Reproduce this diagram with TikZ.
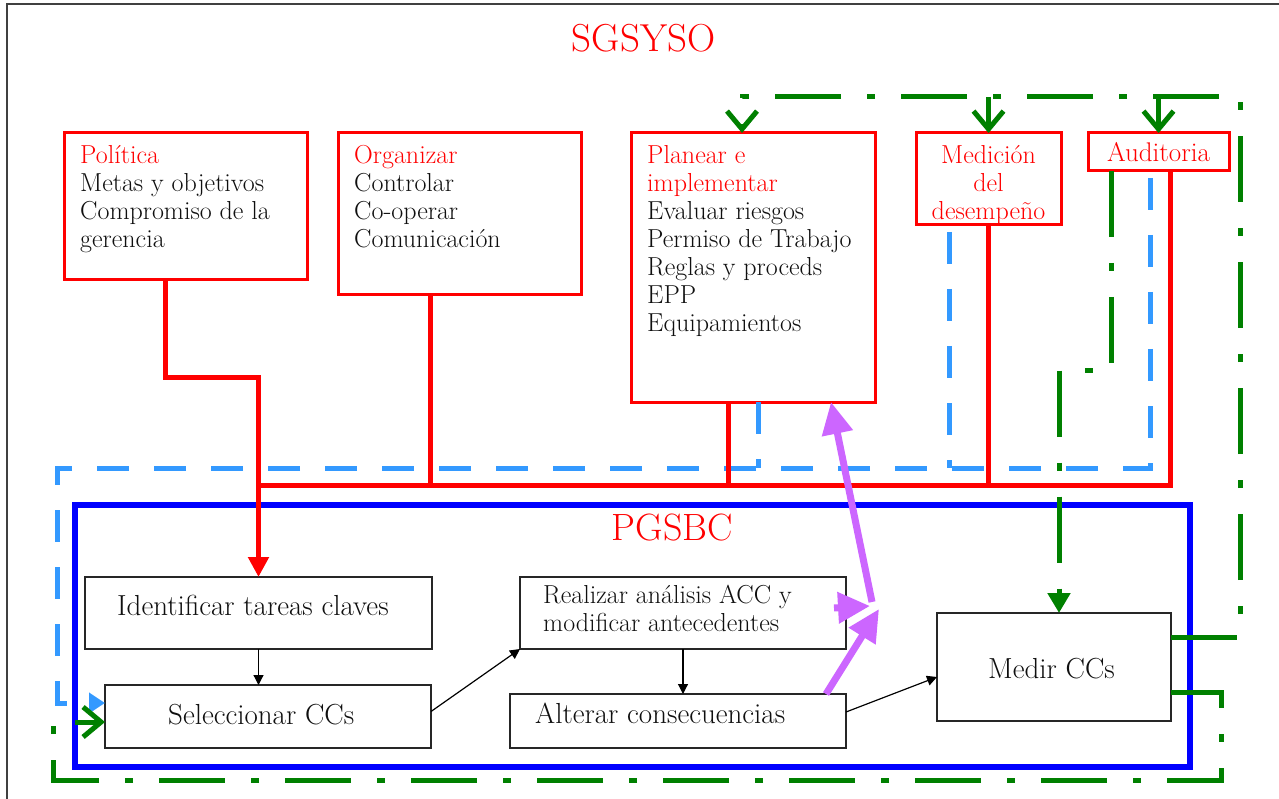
\documentclass[tikz,border=0pt]{standalone}
\usetikzlibrary{arrows.meta,calc}
\definecolor{sred}{RGB}{255,0,0}
\definecolor{lblue}{RGB}{51,153,255}
\definecolor{dgreen}{RGB}{0,128,0}
\definecolor{lpurple}{RGB}{204,102,255}
\definecolor{txt}{RGB}{15,15,15}
\begin{document}
\begin{tikzpicture}[x=1pt,y=-1pt,
 redbox/.style={draw=sred,line width=3pt,inner sep=0pt,outer sep=0pt,anchor=north west},
 blkbox/.style={draw=black!85,line width=1.4pt,inner sep=0pt,outer sep=0pt,anchor=north west},
 toptxt/.style={anchor=north west,inner sep=0pt,align=left,text=txt,font=\fontsize{26}{28}\selectfont},
 lowtxt/.style={anchor=base west,inner sep=0pt,text=txt,font=\fontsize{29}{32}\selectfont},
 redline/.style={draw=sred,line width=5pt},
 bluedash/.style={draw=lblue,line width=5pt,dash pattern=on 32pt off 25pt},
 greenline/.style={draw=dgreen,line width=5pt,dash pattern=on 66pt off 26pt on 8pt off 26pt},
 purp/.style={draw=lpurple,line width=7pt,-{Triangle[length=32pt,width=30pt]}},
 blkarrow/.style={draw=black,line width=1.2pt,-{Triangle[length=10pt,width=10pt]}},
 vbarb/.style={-{Straight Barb[length=18pt,width=30pt]}},
]
\useasboundingbox (0,0) rectangle (1279,799);
\draw[black!75,line width=1.5pt] (7,815) -- (7,4) -- (1295,4);

% PGSBC frame
\node[draw=blue,line width=6pt,minimum width=1115pt,minimum height=262pt,inner sep=0pt,outer sep=0pt,anchor=north west] (pg) at (75,505) {};

% boxes
\node[redbox,minimum width=243pt,minimum height=147pt] (pol) at (64,133) {};
\node[redbox,minimum width=243pt,minimum height=162pt] (org) at (338,133) {};
\node[redbox,minimum width=244pt,minimum height=269pt] (pla) at (631,133) {};
\node[redbox,minimum width=145pt,minimum height=92pt] (med) at (916,133) {};
\node[redbox,minimum width=141pt,minimum height=38pt] (aud) at (1088,133) {};

\node[blkbox,minimum width=347pt,minimum height=72pt] (idt) at (85,577) {};
\node[blkbox,minimum width=326pt,minimum height=63pt] (sel) at (105,685) {};
\node[blkbox,minimum width=326pt,minimum height=72pt] (rea) at (520,577) {};
\node[blkbox,minimum width=336pt,minimum height=54pt] (alt) at (510,694) {};
\node[blkbox,minimum width=234pt,minimum height=108pt] (mcc) at (937,613) {};

% light blue dashed
\draw[bluedash,-{Triangle[length=16pt,width=20pt]}] ([xshift=-8.5pt,yshift=-7pt]aud.south) -- (1150,468) -- (57,468) -- (57,703) -- ([yshift=13.5pt]sel.west);
\draw[bluedash] ([xshift=-39pt,yshift=-7pt]med.south) -- (949.5,468);
\draw[bluedash] ([xshift=5pt]pla.south) -- (758,468);

% red
\draw[redline,-{Triangle[length=20pt,width=20pt]}] ([xshift=-20.5pt]pol.south) |- (258.5,377) -- (idt.north);
\draw[redline] ([xshift=11.5pt]aud.south) |- (258.5,485);
\draw[redline] ([xshift=-29.5pt]org.south) -- (430,485);
\draw[redline] ([xshift=-25pt]pla.south) -- (728,485);
\draw[redline] (med.south) -- (988.5,485);

% green
\draw[greenline,vbarb] ([yshift=30pt]mcc.east) -- (1240,637) -- (1240,97) -- (742,97) -- ([xshift=-11pt]pla.north);
\draw[greenline,vbarb] (988.5,97) -- (med.north);
\draw[greenline,vbarb] (1158.5,97) -- (aud.north);
\draw[greenline,-{Triangle[length=20pt,width=22pt]}] ([xshift=-47pt]aud.south) -- (1111.5,370) -- (1059,370) -- ([xshift=5pt]mcc.north);
\draw[greenline,vbarb] ([yshift=-25pt]mcc.east) -- (1221,692) -- (1221,780) -- (53,780) -- (53,722) -- ([yshift=-5.5pt]sel.west);

% texts
\node[anchor=base,inner sep=0pt,text=sred,font=\fontsize{39}{44}\selectfont] (sgs) at (643.5,52) {SGSYSO};
\node[anchor=base,inner sep=0pt,text=sred,font=\fontsize{38}{44}\selectfont] (pgt) at (672.5,540) {PGSBC};

\node[toptxt] (polt) at (80,145) {\textcolor{sred}{Política}\\Metas y objetivos\\Compromiso de la\\gerencia};
\node[toptxt] (orgt) at (354,145) {\textcolor{sred}{Organizar}\\Controlar\\Co-operar\\Comunicación};
\node[toptxt] (plat) at (647,145) {\textcolor{sred}{Planear e}\\\textcolor{sred}{implementar}\\Evaluar riesgos\\Permiso de Trabajo\\Reglas y proceds\\EPP\\Equipamientos};
\node[toptxt,anchor=north,align=center,text=sred] (medt) at (988.5,145) {Medición\\del\\desempeño};
\node[anchor=base,inner sep=0pt,text=sred,font=\fontsize{27}{28}\selectfont] (audt) at (1158.5,162) {Auditoria};

\node[lowtxt] (idtt) at (117,615) {Identificar tareas claves};
\node[lowtxt] (selt) at (168,724) {Seleccionar CCs};
\node[toptxt] (reat) at (543,585) {Realizar análisis ACC y\\modificar antecedentes};
\node[lowtxt] (altt) at (535,723) {Alterar consecuencias};
\node[lowtxt] (mcct) at (988,678) {Medir CCs};

% purple
\coordinate (pj) at (879,609);
\coordinate (pk) at (872,602);
\draw[purp] ([xshift=148pt]alt.north) -- (pj);
\draw[purp] (pk) -- ([xshift=78pt]pla.south);
\draw[purp] ([xshift=-12pt,yshift=5pt]rea.east) -- (870,606);

% black arrows
\draw[blkarrow] (idt.south) -- (idt.south |- sel.north);
\draw[blkarrow] ([yshift=5pt]sel.east) -- (rea.south west);
\draw[blkarrow] (rea.south) -- (rea.south |- alt.north);
\draw[blkarrow] ([yshift=9pt]alt.east) -- ([yshift=-10pt]mcc.west);
\end{tikzpicture}
\end{document}
